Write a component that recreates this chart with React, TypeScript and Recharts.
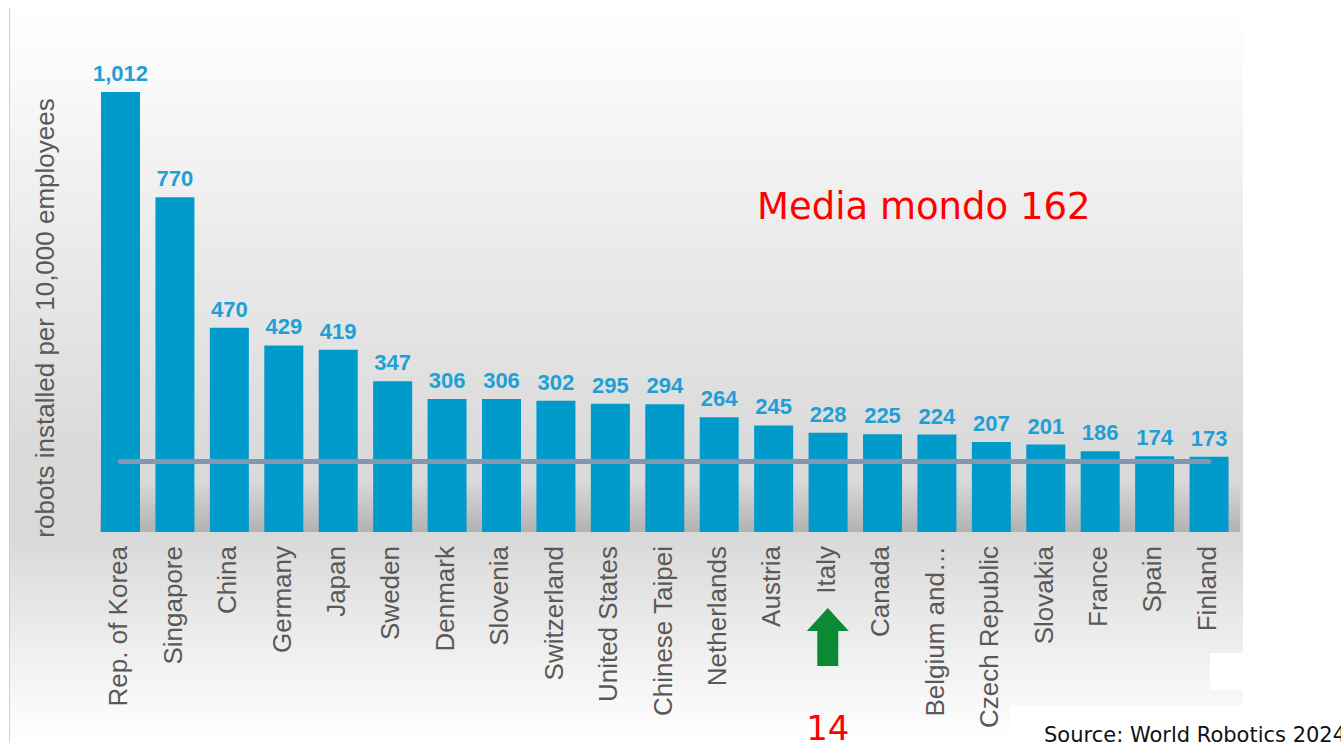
import { BarChart, Bar, XAxis, YAxis, LabelList, ReferenceLine, ReferenceDot } from 'recharts'

const COUNTRIES = [
  'Rep. of Korea', 'Singapore', 'China', 'Germany', 'Japan', 'Sweden', 'Denmark',
  'Slovenia', 'Switzerland', 'United States', 'Chinese Taipei', 'Netherlands', 'Austria',
  'Italy', 'Canada', 'Belgium and…', 'Czech Republic', 'Slovakia', 'France', 'Spain', 'Finland',
]
const DENSITY = [1012, 770, 470, 429, 419, 347, 306, 306, 302, 295, 294, 264, 245, 228, 225, 224, 207, 201, 186, 174, 173]
const WORLD_AVERAGE = 162
const HIGHLIGHT = 'Italy'
const HIGHLIGHT_RANK = '14'

const BLUE = '#009BCB'
const LABEL_BLUE = '#1E9FD5'
const TEXT_GRAY = '#595959'

const data = COUNTRIES.map((country, i) => ({ country, value: DENSITY[i] }))

const fmt = (v: number) => v.toLocaleString('en-US')

function CountryTick(props: any) {
  const { x, y, payload } = props
  return (
    <g transform={`translate(${x},${y + 6})`}>
      <text
        transform="rotate(-90)"
        textAnchor="end"
        dy={7}
        fill={TEXT_GRAY}
        fontSize={26}
        fontFamily="'Liberation Sans', Arial, sans-serif"
      >
        {payload.value}
      </text>
    </g>
  )
}

function RankArrow(props: any) {
  const { cx, cy } = props
  const pts = [
    [cx, cy + 76],
    [cx + 21, cy + 99],
    [cx + 10.5, cy + 99],
    [cx + 10.5, cy + 134],
    [cx - 10.5, cy + 134],
    [cx - 10.5, cy + 99],
    [cx - 21, cy + 99],
  ]
    .map(p => p.join(','))
    .join(' ')
  return (
    <g>
      <polygon points={pts} fill="#0A8A32" />
      <text x={cx} y={cy + 208} textAnchor="middle" fill="#FF0000" fontSize={34} fontFamily="'DejaVu Sans', sans-serif">
        {HIGHLIGHT_RANK}
      </text>
    </g>
  )
}

export default function App() {
  return (
    <div style={{ position: 'absolute', left: 0, top: 0, width: 1341, height: 749, background: '#fff', overflow: 'hidden' }}>
      {/* grey slide panel */}
      <div
        style={{
          position: 'absolute',
          left: 9,
          top: 8,
          width: 1233,
          height: 735,
          borderLeft: '1px solid #d0d0d0',
          background: 'linear-gradient(to bottom, #ffffff 0%, #ececec 30%, #dadada 60%, #d9d9d9 72%, #f0f0f0 88%, #ffffff 100%)',
        }}
      />
      {/* shadow under the bars */}
      <div
        style={{
          position: 'absolute',
          left: 100,
          top: 480,
          width: 1140,
          height: 52,
          background: 'linear-gradient(to bottom, rgba(0,0,0,0) 0%, rgba(0,0,0,0.18) 100%)',
        }}
      />
      <div style={{ position: 'absolute', left: 0, top: 0 }}>
        <BarChart width={1341} height={749} data={data} margin={{ top: 92, right: 105, left: 93, bottom: 0 }}>
          <XAxis dataKey="country" height={217} interval={0} tickLine={false} axisLine={false} tick={<CountryTick />} />
          <YAxis hide domain={[0, 1012]} />
          <Bar dataKey="value" fill={BLUE} barSize={39} isAnimationActive={false}>
            <LabelList
              dataKey="value"
              position="top"
              offset={11}
              formatter={(v: any) => fmt(Number(v))}
              fill={LABEL_BLUE}
              fontSize={22}
              fontWeight="bold"
              fontFamily="'Liberation Sans', Arial, sans-serif"
            />
          </Bar>
          <ReferenceLine
            segment={[
              { x: COUNTRIES[0], y: WORLD_AVERAGE },
              { x: COUNTRIES[COUNTRIES.length - 1], y: WORLD_AVERAGE },
            ]}
            stroke="#8497B0"
            strokeWidth={5}
            strokeLinecap="round"
          />
          <ReferenceDot x={HIGHLIGHT} y={0} shape={<RankArrow />} />
        </BarChart>
      </div>
      {/* axis title and notes */}
      <svg width={1341} height={749} style={{ position: 'absolute', left: 0, top: 0, pointerEvents: 'none' }}>
        <text
          transform="translate(54,318) rotate(-90)"
          textAnchor="middle"
          fill={TEXT_GRAY}
          fontSize={26}
          fontFamily="'Liberation Sans', Arial, sans-serif"
        >
          robots installed per 10,000 employees
        </text>
        <text x={757} y={219} fill="#FF0000" fontSize={37} fontFamily="'DejaVu Sans', sans-serif">
          Media mondo {WORLD_AVERAGE}
        </text>
        <rect x={1210} y={653} width={131} height={37} fill="#fff" />
        <rect x={1010} y={706} width={331} height={43} fill="#fff" />
        <text x={1044} y={742} fill="#111" fontSize={21} fontFamily="'DejaVu Sans', sans-serif">
          Source: World Robotics 2024
        </text>
      </svg>
    </div>
  )
}
